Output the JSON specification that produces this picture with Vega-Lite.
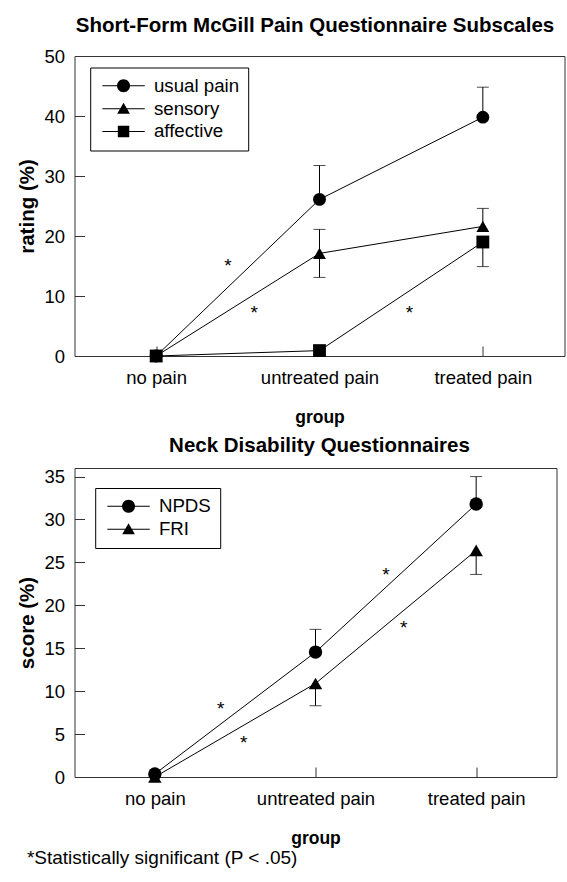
{
  "$schema": "https://vega.github.io/schema/vega-lite/v6.json",
  "background": "white",
  "padding": {"left": 16.5, "top": 15, "right": 0, "bottom": 0},
  "spacing": 8,
  "title": {"text": "*Statistically significant (P < .05)", "orient": "bottom", "anchor": "start", "frame": "bounds", "fontSize": 19, "fontWeight": "normal", "font": "Liberation Sans", "color": "black", "offset": 1.5, "dx": 9.5},
  "datasets": {
    "mcgill": [
      {"series": "usual pain", "group": "no pain", "gx": 0, "value": 0},
      {"series": "usual pain", "group": "untreated pain", "gx": 1, "value": 26.1},
      {"series": "usual pain", "group": "treated pain", "gx": 2, "value": 39.8},
      {"series": "sensory", "group": "no pain", "gx": 0, "value": 0},
      {"series": "sensory", "group": "untreated pain", "gx": 1, "value": 17.1},
      {"series": "sensory", "group": "treated pain", "gx": 2, "value": 21.6},
      {"series": "affective", "group": "no pain", "gx": 0, "value": 0},
      {"series": "affective", "group": "untreated pain", "gx": 1, "value": 0.9},
      {"series": "affective", "group": "treated pain", "gx": 2, "value": 19.0}
    ],
    "mcgill_err": [
      {"series": "usual pain", "gx": 1, "value": 26.1, "end": 31.75},
      {"series": "usual pain", "gx": 2, "value": 39.8, "end": 44.8},
      {"series": "sensory", "gx": 1, "value": 17.1, "end": 21.1},
      {"series": "sensory", "gx": 1, "value": 17.1, "end": 13.1},
      {"series": "sensory", "gx": 2, "value": 21.6, "end": 24.6},
      {"series": "affective", "gx": 2, "value": 19.0, "end": 14.9}
    ],
    "mcgill_ast": [
      {"gx": 0.44, "value": 15.5, "mark": "*"},
      {"gx": 0.6, "value": 7.7, "mark": "*"},
      {"gx": 1.55, "value": 7.6, "mark": "*"}
    ],
    "neck": [
      {"series": "FRI", "group": "no pain", "gx": 0, "value": 0},
      {"series": "FRI", "group": "untreated pain", "gx": 1, "value": 10.9},
      {"series": "FRI", "group": "treated pain", "gx": 2, "value": 26.4},
      {"series": "NPDS", "group": "no pain", "gx": 0, "value": 0.35},
      {"series": "NPDS", "group": "untreated pain", "gx": 1, "value": 14.55},
      {"series": "NPDS", "group": "treated pain", "gx": 2, "value": 31.8}
    ],
    "neck_err": [
      {"series": "NPDS", "gx": 1, "value": 14.55, "end": 17.2},
      {"series": "NPDS", "gx": 2, "value": 31.8, "end": 35.0},
      {"series": "FRI", "gx": 1, "value": 10.9, "end": 8.3},
      {"series": "FRI", "gx": 2, "value": 26.4, "end": 23.6}
    ],
    "neck_ast": [
      {"gx": 0.41, "value": 8.3, "mark": "*"},
      {"gx": 0.553, "value": 4.34, "mark": "*"},
      {"gx": 1.438, "value": 23.87, "mark": "*"},
      {"gx": 1.549, "value": 17.73, "mark": "*"}
    ]
  },
  "vconcat": [
    {
      "width": 490,
      "height": 300,
      "title": {"text": "Short-Form McGill Pain Questionnaire Subscales", "fontSize": 20.5, "fontWeight": "bold", "font": "Liberation Sans", "color": "black", "offset": 10.5, "anchor": "middle", "dx": -4.5},
      "encoding": {
        "x": {"field": "gx", "type": "quantitative", "scale": {"domain": [-0.5, 2.5], "nice": false, "zero": false},
              "axis": {"title": "group", "values": [0, 1, 2], "labelExpr": "datum.value === 0 ? 'no pain' : datum.value === 1 ? 'untreated pain' : 'treated pain'"}},
        "y": {"field": "value", "type": "quantitative", "scale": {"domain": [0, 50], "nice": false},
              "axis": {"title": "rating (%)", "values": [0, 10, 20, 30, 40, 50]}}
      },
      "layer": [
        {"data": {"name": "mcgill"}, "mark": {"type": "line", "color": "black", "strokeWidth": 1}, "encoding": {"detail": {"field": "series"}}},
        {"data": {"name": "mcgill_err"}, "mark": {"type": "rule", "color": "black", "strokeWidth": 1}, "encoding": {"y2": {"field": "end"}}},
        {"data": {"name": "mcgill_err"}, "mark": {"type": "tick", "orient": "horizontal", "color": "black", "size": 12, "thickness": 1}, "encoding": {"y": {"field": "end", "type": "quantitative"}}},
        {"data": {"name": "mcgill"}, "mark": {"type": "point", "filled": true, "color": "black", "opacity": 1, "size": 165},
         "encoding": {
           "shape": {"field": "series", "type": "nominal", "scale": {"domain": ["usual pain", "sensory", "affective"], "range": ["circle", "triangle-up", "square"]}, "legend": null}
         }},
        {"data": {"name": "mcgill"}, "mark": {"type": "point", "filled": true, "color": "black", "size": 0},
         "encoding": {
           "shape": {"field": "series", "type": "nominal",
             "scale": {"domain": ["usual pain", "sensory", "affective"], "range": ["M-3.26 -0.08H3.26V0.08H-3.26ZM-1 0A1 1 0 1 1 1 0A1 1 0 1 1 -1 0Z", "M-3.26 -0.08H3.26V0.08H-3.26ZM0 -0.9L0.98 0.8L-0.98 0.8Z", "M-3.26 -0.08H3.26V0.08H-3.26ZM-0.88 -0.88H0.88V0.88H-0.88Z"]},
             "legend": {"title": null, "orient": "none", "legendX": 15.7, "legendY": 11.5, "strokeColor": "black", "padding": 9, "labelFontSize": 18.7, "labelColor": "black", "labelFont": "Liberation Sans", "rowPadding": 2.8, "symbolOffset": 15, "labelOffset": 21, "symbolSize": 169, "symbolFillColor": "black", "symbolStrokeWidth": 0, "symbolOpacity": 1}}
         }},
        {"data": {"name": "mcgill_ast"}, "mark": {"type": "text", "fontSize": 19, "dy": 3, "color": "black", "font": "Liberation Sans"}, "encoding": {"text": {"field": "mark"}}}
      ],
      "resolve": {"scale": {"shape": "independent"}, "legend": {"shape": "independent"}}
    },
    {
      "width": 482,
      "height": 309,
      "title": {"text": "Neck Disability Questionnaires", "fontSize": 20.5, "fontWeight": "bold", "font": "Liberation Sans", "color": "black", "offset": 11.3, "anchor": "middle", "dx": 4},
      "encoding": {
        "x": {"field": "gx", "type": "quantitative", "scale": {"domain": [-0.5, 2.5], "nice": false, "zero": false},
              "axis": {"title": "group", "values": [0, 1, 2], "labelExpr": "datum.value === 0 ? 'no pain' : datum.value === 1 ? 'untreated pain' : 'treated pain'"}},
        "y": {"field": "value", "type": "quantitative", "scale": {"domain": [0, 36], "nice": false},
              "axis": {"title": "score (%)", "values": [0, 5, 10, 15, 20, 25, 30, 35]}}
      },
      "layer": [
        {"data": {"name": "neck"}, "mark": {"type": "line", "color": "black", "strokeWidth": 1}, "encoding": {"detail": {"field": "series"}}},
        {"data": {"name": "neck_err"}, "mark": {"type": "rule", "color": "black", "strokeWidth": 1}, "encoding": {"y2": {"field": "end"}}},
        {"data": {"name": "neck_err"}, "mark": {"type": "tick", "orient": "horizontal", "color": "black", "size": 12, "thickness": 1}, "encoding": {"y": {"field": "end", "type": "quantitative"}}},
        {"data": {"name": "neck"}, "mark": {"type": "point", "filled": true, "color": "black", "opacity": 1, "size": 180},
         "encoding": {
           "shape": {"field": "series", "type": "nominal", "scale": {"domain": ["NPDS", "FRI"], "range": ["circle", "triangle-up"]}, "legend": null}
         }},
        {"data": {"name": "neck"}, "mark": {"type": "point", "filled": true, "color": "black", "size": 0},
         "encoding": {
           "shape": {"field": "series", "type": "nominal",
             "scale": {"domain": ["NPDS", "FRI"], "range": ["M-3.26 -0.08H3.26V0.08H-3.26ZM-1 0A1 1 0 1 1 1 0A1 1 0 1 1 -1 0Z", "M-3.26 -0.08H3.26V0.08H-3.26ZM0 -0.9L0.98 0.8L-0.98 0.8Z"]},
             "legend": {"title": null, "orient": "none", "legendX": 20.7, "legendY": 20, "strokeColor": "black", "padding": 9, "labelFontSize": 18.7, "labelColor": "black", "labelFont": "Liberation Sans", "rowPadding": 2.8, "symbolOffset": 15, "labelOffset": 21, "symbolSize": 169, "symbolFillColor": "black", "symbolStrokeWidth": 0, "symbolOpacity": 1}}
         }},
        {"data": {"name": "neck_ast"}, "mark": {"type": "text", "fontSize": 19, "dy": 3, "color": "black", "font": "Liberation Sans"}, "encoding": {"text": {"field": "mark"}}}
      ],
      "resolve": {"scale": {"shape": "independent"}, "legend": {"shape": "independent"}}
    }
  ],
  "resolve": {"scale": {"x": "independent", "y": "independent", "shape": "independent"}, "legend": {"shape": "independent"}},
  "config": {
    "font": "Liberation Sans",
    "view": {"stroke": "#333", "strokeWidth": 1},
    "axis": {"grid": false, "domain": false, "tickColor": "#333", "tickSize": -10, "labelFontSize": 18.5, "labelColor": "black", "labelFont": "Liberation Sans", "titleFontWeight": "bold", "titleColor": "black", "titleFont": "Liberation Sans"},
    "axisX": {"labelPadding": 22.4, "titlePadding": 22, "labelFlush": false, "labelOverlap": false, "titleFontSize": 17.5},
    "axisY": {"labelPadding": 20, "titlePadding": 6, "titleFontSize": 20.5}
  }
}
